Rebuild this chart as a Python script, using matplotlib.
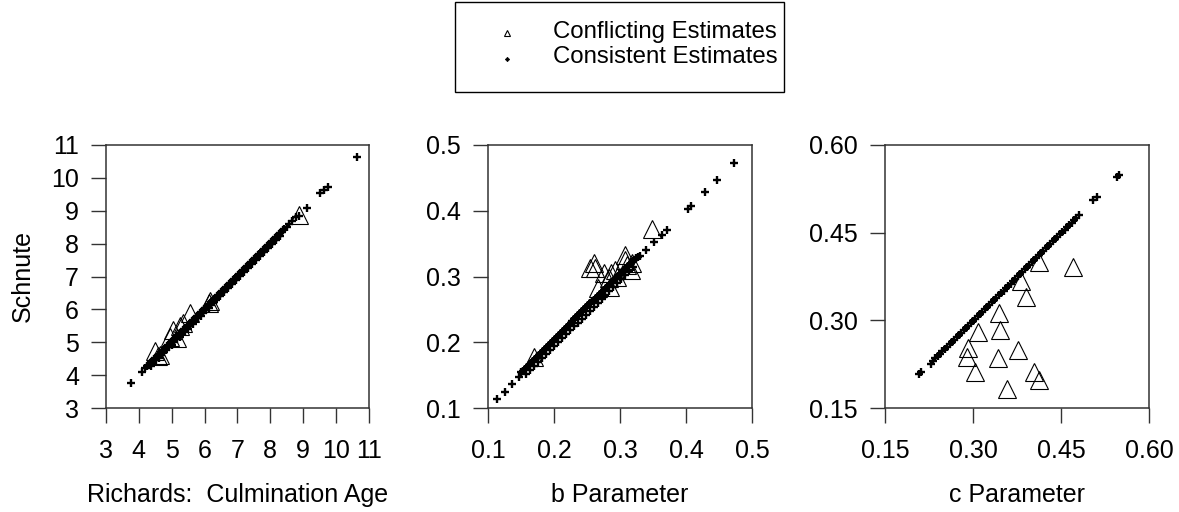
import matplotlib
matplotlib.use("Agg")
import matplotlib.pyplot as plt
from matplotlib.patches import Rectangle
from matplotlib.lines import Line2D

plt.rcParams['font.family'] = ['Liberation Sans', 'DejaVu Sans']

# ---------------- data ----------------
# Panel 1: culmination age (Richards x, Schnute y)
age_cons_x = [3.76, 4.08, 4.20, 8.50, 8.58, 8.66, 8.78, 8.86, 9.10, 9.50, 9.63, 9.74, 10.62,
              4.26, 4.30, 4.34, 4.38, 4.42, 4.46, 4.50, 4.54, 4.58, 4.62, 4.66, 4.70, 4.74, 4.78,
              4.82, 4.86, 4.90, 4.94, 4.98, 5.02, 5.06, 5.10, 5.14, 5.18, 5.22, 5.26, 5.30, 5.34,
              5.38, 5.42, 5.46, 5.50, 5.54, 5.58, 5.62, 5.66, 5.70, 5.74, 5.78, 5.82, 5.86, 5.90,
              5.94, 5.98, 6.02, 6.06, 6.10, 6.14, 6.18, 6.22, 6.26, 6.30, 6.34, 6.38, 6.42, 6.46,
              6.50, 6.54, 6.58, 6.62, 6.66, 6.70, 6.74, 6.78, 6.82, 6.86, 6.90, 6.94, 6.98, 7.02,
              7.06, 7.10, 7.14, 7.18, 7.22, 7.26, 7.30, 7.34, 7.38, 7.42, 7.46, 7.50, 7.54, 7.58,
              7.62, 7.66, 7.70, 7.74, 7.78, 7.82, 7.86, 7.90, 7.94, 7.98, 8.02, 8.06, 8.10, 8.14,
              8.18, 8.22, 8.26, 8.30, 8.34, 8.38, 8.42,
              4.36, 4.44, 4.52, 4.60, 4.68, 4.76, 4.84, 4.92, 5.00, 5.08, 5.16, 5.24, 5.32, 5.40,
              5.48, 5.56, 5.64, 5.72, 5.80, 5.88, 5.96, 6.04, 6.12, 6.20, 6.28, 6.36, 6.48, 6.60,
              6.72, 6.84, 6.96, 7.08, 7.20, 7.32, 7.44, 7.56, 7.68, 7.80, 7.92, 8.04, 8.16, 8.28]
age_cons_y = [3.76, 4.08, 4.22, 8.52, 8.60, 8.68, 8.82, 8.85, 9.09, 9.53, 9.63, 9.73, 10.64,
              4.28, 4.32, 4.36, 4.40, 4.44, 4.48, 4.52, 4.56, 4.60, 4.64, 4.68, 4.72, 4.76, 4.80,
              4.84, 4.88, 4.92, 4.96, 5.00, 5.04, 5.08, 5.12, 5.16, 5.20, 5.24, 5.28, 5.32, 5.36,
              5.40, 5.44, 5.48, 5.52, 5.56, 5.60, 5.64, 5.68, 5.72, 5.76, 5.80, 5.84, 5.88, 5.92,
              5.96, 6.00, 6.04, 6.08, 6.12, 6.16, 6.20, 6.24, 6.28, 6.32, 6.36, 6.40, 6.44, 6.48,
              6.52, 6.56, 6.60, 6.64, 6.68, 6.72, 6.76, 6.80, 6.84, 6.88, 6.92, 6.96, 7.00, 7.04,
              7.08, 7.12, 7.16, 7.20, 7.24, 7.28, 7.32, 7.36, 7.40, 7.44, 7.48, 7.52, 7.56, 7.60,
              7.64, 7.68, 7.72, 7.76, 7.80, 7.84, 7.88, 7.92, 7.96, 8.00, 8.04, 8.08, 8.12, 8.16,
              8.20, 8.24, 8.28, 8.32, 8.36, 8.40, 8.44,
              4.29, 4.37, 4.45, 4.53, 4.61, 4.69, 4.77, 4.85, 4.93, 5.01, 5.09, 5.17, 5.25, 5.33,
              5.41, 5.49, 5.57, 5.65, 5.73, 5.81, 5.89, 5.97, 6.05, 6.13, 6.21, 6.29, 6.42, 6.54,
              6.66, 6.78, 6.90, 7.02, 7.14, 7.26, 7.38, 7.50, 7.62, 7.74, 7.86, 7.98, 8.10, 8.22]
age_conf_x = [4.49, 4.59, 4.65, 4.95, 5.05, 5.15, 5.25, 5.35, 5.55, 6.13, 6.16, 8.88]
age_conf_y = [4.72, 4.57, 4.62, 5.17, 5.38, 5.12, 5.48, 5.58, 5.88, 6.20, 6.24, 8.87]

# Panel 2: b parameter
b_cons_x = [0.113, 0.125, 0.136, 0.147, 0.331, 0.340, 0.352, 0.363, 0.371, 0.403, 0.407, 0.429,
            0.447, 0.473,
            0.150, 0.153, 0.156, 0.159, 0.162, 0.165, 0.168, 0.171, 0.174, 0.177, 0.180, 0.183,
            0.186, 0.189, 0.192, 0.195, 0.198, 0.201, 0.204, 0.207, 0.210, 0.213, 0.216, 0.219,
            0.222, 0.225, 0.228, 0.231, 0.234, 0.237, 0.240, 0.243, 0.246, 0.249, 0.252, 0.255,
            0.258, 0.261, 0.264, 0.267, 0.270, 0.273, 0.276, 0.279, 0.282, 0.285, 0.288, 0.291,
            0.294, 0.297, 0.300, 0.303, 0.306, 0.309, 0.312, 0.315, 0.318, 0.321, 0.324, 0.327,
            0.158, 0.164, 0.170, 0.176, 0.182, 0.188, 0.194, 0.200, 0.206, 0.212, 0.218, 0.224,
            0.230, 0.236, 0.242, 0.248, 0.254, 0.260, 0.266, 0.272, 0.278, 0.284, 0.290, 0.296,
            0.302, 0.308, 0.314, 0.320]
b_cons_y = [0.113, 0.125, 0.136, 0.147, 0.331, 0.340, 0.352, 0.363, 0.371, 0.403, 0.407, 0.429,
            0.447, 0.473,
            0.154, 0.157, 0.160, 0.163, 0.166, 0.169, 0.172, 0.175, 0.178, 0.181, 0.184, 0.187,
            0.190, 0.193, 0.196, 0.199, 0.202, 0.205, 0.208, 0.211, 0.214, 0.217, 0.220, 0.223,
            0.226, 0.229, 0.232, 0.235, 0.238, 0.241, 0.244, 0.247, 0.250, 0.253, 0.256, 0.259,
            0.262, 0.265, 0.268, 0.271, 0.274, 0.277, 0.280, 0.283, 0.286, 0.289, 0.292, 0.295,
            0.298, 0.301, 0.304, 0.307, 0.310, 0.313, 0.316, 0.319, 0.322, 0.325, 0.328, 0.330,
            0.152, 0.158, 0.164, 0.170, 0.176, 0.182, 0.188, 0.194, 0.200, 0.206, 0.212, 0.218,
            0.224, 0.230, 0.236, 0.242, 0.248, 0.254, 0.260, 0.266, 0.272, 0.278, 0.284, 0.290,
            0.296, 0.302, 0.308, 0.314]
b_conf_x = [0.170, 0.255, 0.260, 0.262, 0.267, 0.275, 0.283, 0.285, 0.287, 0.292, 0.295,
            0.3075, 0.3075, 0.310, 0.317, 0.318, 0.348]
b_conf_y = [0.178, 0.3125, 0.320, 0.3125, 0.282, 0.305, 0.298, 0.284, 0.305, 0.310, 0.300,
            0.333, 0.325, 0.3175, 0.310, 0.320, 0.373]

# Panel 3: c parameter
c_cons_x = [0.208, 0.212, 0.505, 0.511, 0.546, 0.549,
            0.228, 0.232, 0.236, 0.240, 0.244, 0.248, 0.252, 0.256, 0.260, 0.264, 0.268, 0.272,
            0.276, 0.280, 0.284, 0.288, 0.292, 0.296, 0.300, 0.304, 0.308, 0.312, 0.316, 0.320,
            0.324, 0.328, 0.332, 0.336, 0.340, 0.344, 0.348, 0.352, 0.356, 0.360, 0.364, 0.368,
            0.372, 0.376, 0.380, 0.384, 0.388, 0.392, 0.396, 0.400, 0.404, 0.408, 0.412, 0.416,
            0.420, 0.424, 0.428, 0.432, 0.436, 0.440, 0.444, 0.448, 0.452, 0.456, 0.460, 0.464,
            0.468, 0.472, 0.476, 0.480]
c_cons_y = [0.209, 0.212, 0.506, 0.511, 0.545, 0.548,
            0.226, 0.231, 0.235, 0.239, 0.243, 0.247, 0.251, 0.255, 0.259, 0.263, 0.267, 0.271,
            0.275, 0.279, 0.283, 0.287, 0.291, 0.295, 0.299, 0.303, 0.307, 0.311, 0.315, 0.319,
            0.323, 0.327, 0.331, 0.335, 0.339, 0.343, 0.347, 0.351, 0.355, 0.359, 0.363, 0.367,
            0.371, 0.375, 0.379, 0.383, 0.387, 0.391, 0.395, 0.399, 0.403, 0.407, 0.411, 0.415,
            0.419, 0.423, 0.427, 0.431, 0.435, 0.439, 0.443, 0.447, 0.451, 0.455, 0.459, 0.463,
            0.467, 0.471, 0.475, 0.480]
c_conf_x = [0.4125, 0.470, 0.381, 0.391, 0.344, 0.309, 0.346, 0.292, 0.290, 0.343, 0.377,
            0.303, 0.404, 0.412, 0.358]
c_conf_y = [0.400, 0.391, 0.368, 0.340, 0.313, 0.280, 0.283, 0.252, 0.238, 0.235, 0.249,
            0.212, 0.212, 0.198, 0.183]

panel_xlabels = ["Richards:  Culmination Age", "b Parameter", "c Parameter"]
ylabel_text = "Schnute"
legend_labels = ["Conflicting Estimates", "Consistent Estimates"]
age_ticks = [3, 4, 5, 6, 7, 8, 9, 10, 11]
b_ticks = [0.1, 0.2, 0.3, 0.4, 0.5]
c_ticks = [0.15, 0.30, 0.45, 0.60]

# ---------------- figure ----------------
W, H = 1179, 512
fig = plt.figure(figsize=(W / 100, H / 100), dpi=100)

def px_axes(left, top, right, bottom):
    return fig.add_axes([left / W, 1 - bottom / H, (right - left) / W, (bottom - top) / H])

axes = [px_axes(106, 145, 369, 408), px_axes(488, 145, 752, 408), px_axes(885, 145, 1149, 408)]

FS = 18
spine_col = '#333333'
datasets = [
    (age_cons_x, age_cons_y, age_conf_x, age_conf_y, age_ticks, (3, 11), "%d"),
    (b_cons_x, b_cons_y, b_conf_x, b_conf_y, b_ticks, (0.1, 0.5), "%.1f"),
    (c_cons_x, c_cons_y, c_conf_x, c_conf_y, c_ticks, (0.15, 0.60), "%.2f"),
]

for i, (ax, (cx, cy, fx, fy, ticks, lim, fmt)) in enumerate(zip(axes, datasets)):
    ax.plot(cx, cy, linestyle='none', marker='+', markersize=5.5, mew=1.7, color='black', zorder=2)
    ax.plot(fx, fy, linestyle='none', marker='^', markersize=12.5, mfc='none', mec='black',
            mew=0.8, zorder=3)
    ax.set_xlim(*lim)
    ax.set_ylim(*lim)
    ax.set_xticks(ticks)
    ax.set_yticks(ticks)
    ax.set_xticklabels([fmt % t for t in ticks])
    ax.set_yticklabels([fmt % t for t in ticks])
    ax.tick_params(direction='out', length=10.5, width=1.0, color=spine_col,
                   labelsize=FS, pad=9)
    ax.tick_params(axis='x', pad=12)
    for s in ax.spines.values():
        s.set_linewidth(1.1)
        s.set_color(spine_col)
    ax.set_xlabel(panel_xlabels[i], fontsize=FS, labelpad=14)
    ax.set_facecolor('white')

axes[0].set_ylabel(ylabel_text, fontsize=FS, labelpad=12)

# ---------------- legend ----------------
fig.add_artist(Rectangle((455 / W, 1 - 92 / H), 329 / W, 90 / H, transform=fig.transFigure,
                         facecolor='white', edgecolor='black', linewidth=1.0))
fig.add_artist(Line2D([507 / W], [1 - 33 / H], transform=fig.transFigure, linestyle='none',
                      marker='^', markersize=5, mfc='none', mec='black', mew=0.8))
fig.add_artist(Line2D([507 / W], [1 - 59 / H], transform=fig.transFigure, linestyle='none',
                      marker='D', markersize=2.2, mfc='black', mec='black', mew=0.5))
fig.text(553 / W, 1 - 38 / H, legend_labels[0], fontsize=17.3, va='baseline', ha='left')
fig.text(553 / W, 1 - 63 / H, legend_labels[1], fontsize=17.3, va='baseline', ha='left')

fig.savefig("out.png", dpi=100, facecolor='white')
